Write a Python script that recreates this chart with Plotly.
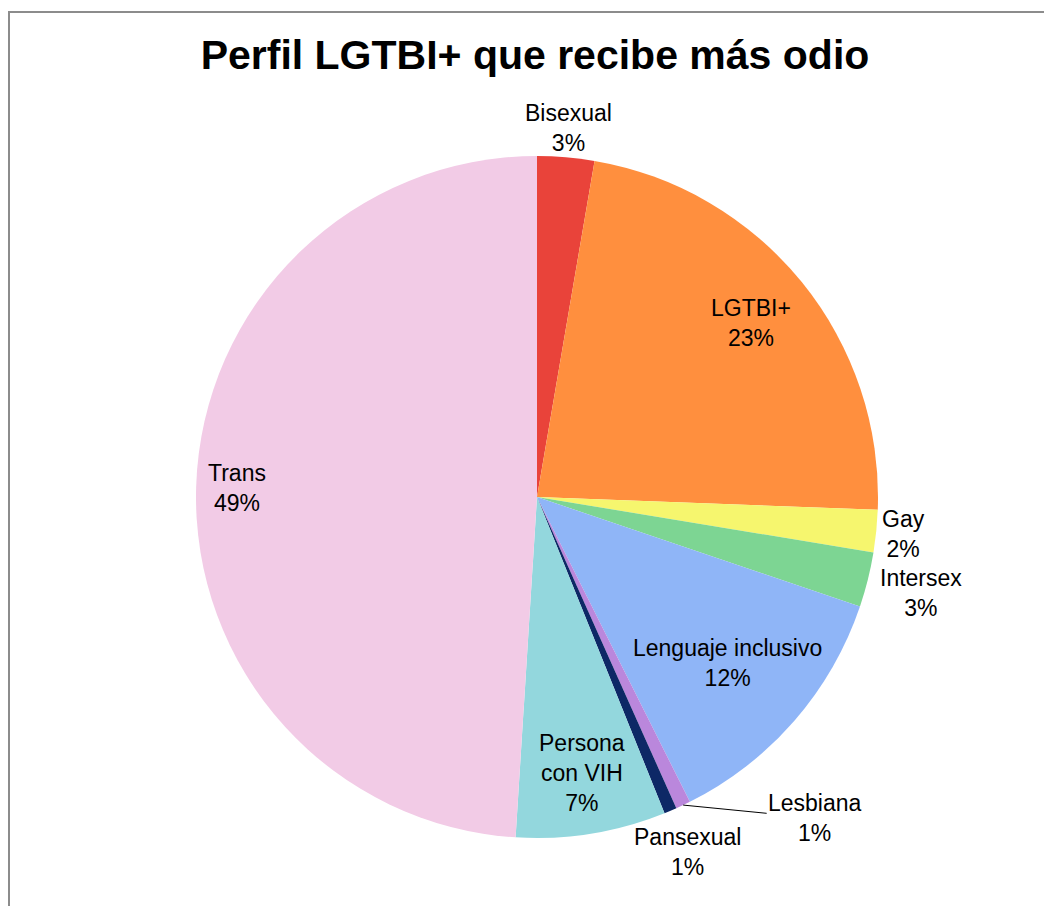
import math
import plotly.graph_objects as go

# data (clockwise from 12 o'clock)
labels = ["Bisexual", "LGTBI+", "Gay", "Intersex", "Lenguaje inclusivo",
          "Lesbiana", "Pansexual", "Persona con VIH", "Trans"]
values = [2.7, 22.9, 2.0, 2.6, 12.4, 0.7, 0.6, 7.1, 49.0]
display_text = ["Bisexual", "LGTBI+", "Gay", "Intersex", "Lenguaje inclusivo",
                "Lesbiana", "Pansexual", "Persona<br>con VIH", "Trans"]
colors = ["#E9433A", "#FF8F3E", "#F6F66E", "#7DD593", "#8FB5F7",
          "#BA87DC", "#0D2866", "#93D7DD", "#F2CBE6"]

# radial placement of each label (fraction of the radius); None -> leader line
label_radius = [1.085, 0.81, 1.08, 1.16, 0.74, None, 1.13, 0.82, 0.88]

FONT = "Liberation Sans, Arial, sans-serif"
# page body has an 8px margin, so the figure is 8px smaller on each side
W, H = 1044, 898
SIDE = 682
ML, MT = 188, 148
MR, MB = W - ML - SIDE, H - MT - SIDE

fig = go.Figure()
fig.add_trace(go.Pie(
    labels=labels, values=values, sort=False, direction="clockwise", rotation=0,
    marker=dict(colors=colors, line=dict(width=0)),
    textinfo="none", hoverinfo="label+percent", showlegend=False,
))

total = sum(values)
annotations = []
cum = 0.0
for lab, txt, v, f in zip(labels, display_text, values, label_radius):
    mid = (cum + v / 2) / total * 2 * math.pi
    cum += v
    pct = f"{round(v / total * 100):d}%"
    text = f"{txt}<br>{pct}"
    if f is not None:
        annotations.append(dict(
            x=0.5 + f * 0.5 * math.sin(mid), y=0.5 + f * 0.5 * math.cos(mid),
            xref="paper", yref="paper", xanchor="center", yanchor="middle",
            text=text, showarrow=False,
            font=dict(family=FONT, size=23, color="black"),
        ))
    else:
        # small slice: label off to the side with a thin leader line
        annotations.append(dict(
            x=0.5 + 0.5 * math.sin(mid), y=0.5 + 0.5 * math.cos(mid),
            xref="paper", yref="paper", text=text, showarrow=True,
            arrowhead=0, arrowwidth=1, arrowcolor="black", ax=132, ay=13,
            font=dict(family=FONT, size=23, color="black"),
        ))

fig.update_layout(
    width=W, height=H,
    margin=dict(l=ML, r=MR, t=MT, b=MB),
    paper_bgcolor="white", plot_bgcolor="white",
    title=dict(text="Perfil LGTBI+ que recibe más odio",
               x=527 / W, xanchor="center", y=1 - 47 / H, yanchor="middle",
               font=dict(family=FONT, size=41, color="black", weight="bold")),
    annotations=annotations,
)

# chart frame (grey border, only top and left visible in the crop)
fig.add_shape(type="rect", xref="paper", yref="paper",
              x0=(1 - ML) / SIDE, x1=(W + 20 - ML) / SIDE,
              y0=(H - MB - H - 20) / SIDE, y1=(H - MB - 4) / SIDE,
              line=dict(color="#8C8C8C", width=2), fillcolor="rgba(0,0,0,0)", layer="below")

fig.write_html("out.html")
